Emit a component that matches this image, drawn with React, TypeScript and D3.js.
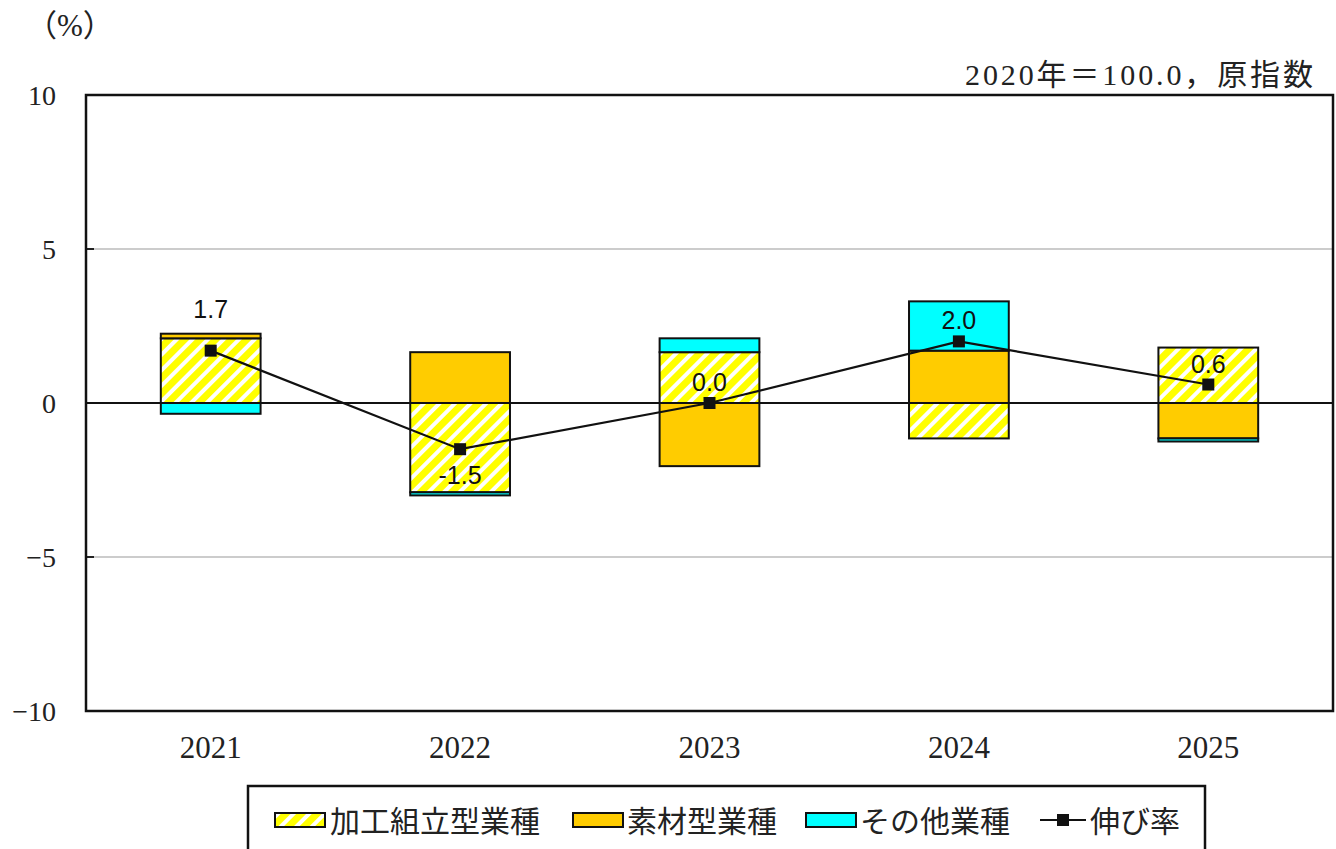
import { useMemo } from "react";
import * as d3 from "d3";

// values (percentage-point contributions)
const years = ["2021", "2022", "2023", "2024", "2025"];
const assembly = [2.1, -2.9, 1.65, -1.15, 1.8]; // 加工組立型業種
const materials = [0.15, 1.65, -2.05, 1.7, -1.15]; // 素材型業種
const others = [-0.35, -0.1, 0.45, 1.6, -0.1]; // その他業種
const growth = [1.7, -1.5, 0.0, 2.0, 0.6]; // 伸び率
const labelPlace = ["barTop", "below", "above", "above", "above"];

const yTicks = [10, 5, 0, -5, -10];
const legendNames = ["加工組立型業種", "素材型業種", "その他業種", "伸び率"];

const W = 1336;
const H = 849;
const margin = { left: 86, right: 3, top: 95, bottom: 138 };

const serif = "'Liberation Serif', 'DejaVu Serif', 'Noto Sans CJK JP', serif";
const cjk = "'Liberation Serif', 'Noto Sans CJK JP', sans-serif";
const sans = "'Liberation Sans', Arial, sans-serif";

const keys = ["assembly", "materials", "others"] as const;
const fills: Record<string, string> = {
  assembly: "url(#hatch)",
  materials: "#ffcc00",
  others: "#00ffff",
};

export default function App() {
  const innerW = W - margin.left - margin.right;
  const innerH = H - margin.top - margin.bottom;

  const x = useMemo(
    () => d3.scaleBand().domain(years).range([margin.left, margin.left + innerW]).paddingInner(0.6).paddingOuter(0.3),
    [innerW]
  );
  const y = useMemo(
    () => d3.scaleLinear().domain([-10, 10]).range([margin.top + innerH, margin.top]),
    [innerH]
  );

  const rows = years.map((yr, i) => ({
    year: yr,
    assembly: assembly[i],
    materials: materials[i],
    others: others[i],
  }));
  const series = d3
    .stack<any>()
    .keys(keys as any)
    .offset(d3.stackOffsetDiverging)(rows);

  const cx = (yr: string) => (x(yr) ?? 0) + x.bandwidth() / 2;
  const line = d3
    .line<number>()
    .x((_, i) => cx(years[i]))
    .y((d) => y(d));

  const posTotal = years.map((_, i) =>
    [assembly[i], materials[i], others[i]].filter((v) => v > 0).reduce((a, b) => a + b, 0)
  );

  const x0 = margin.left;
  const x1 = margin.left + innerW;

  return (
    <svg width={W} height={H} style={{ position: "absolute", left: 0, top: 0, background: "#fff" }}>
      <defs>
        <pattern id="hatch" patternUnits="userSpaceOnUse" width="11" height="11" patternTransform="rotate(45)">
          <rect width="11" height="11" fill="#ffff00" />
          <rect width="4" height="11" fill="#ffffff" />
        </pattern>
      </defs>

      {/* unit + note */}
      <text x={26} y={36} fontFamily={cjk} fontSize={31} fill="#222">
        （%）
      </text>
      <text
        x={965}
        y={85}
        fontFamily={cjk}
        fontSize={30}
        fill="#222"
        textLength={348}
        lengthAdjust="spacing"
      >
        2020年＝100.0，原指数
      </text>

      {/* gridlines */}
      {yTicks
        .filter((t) => t !== 0 && Math.abs(t) !== 10)
        .map((t) => (
          <g key={t}>
            <line x1={x0} x2={x1} y1={y(t)} y2={y(t)} stroke="#999" strokeWidth={1} />
            <line x1={x0} x2={x0 + 8} y1={y(t)} y2={y(t)} stroke="#222" strokeWidth={2} />
          </g>
        ))}

      {/* y tick labels */}
      {yTicks.map((t) => (
        <text
          key={t}
          x={56}
          y={y(t)}
          dy="0.35em"
          textAnchor="end"
          fontFamily={serif}
          fontSize={28}
          fill="#222"
        >
          {t < 0 ? `−${Math.abs(t)}` : t}
        </text>
      ))}

      {/* stacked bars */}
      {series.map((s) =>
        s.map((d, i) => {
          const top = y(Math.max(d[0], d[1]));
          const bot = y(Math.min(d[0], d[1]));
          if (bot - top <= 0) return null;
          return (
            <rect
              key={`${s.key}-${i}`}
              x={x(years[i])}
              y={top}
              width={x.bandwidth()}
              height={bot - top}
              fill={fills[s.key]}
              stroke="#111"
              strokeWidth={2}
            />
          );
        })
      )}

      {/* zero line */}
      <line x1={x0} x2={x1} y1={y(0)} y2={y(0)} stroke="#111" strokeWidth={2} />

      {/* growth line */}
      <path d={line(growth) ?? ""} fill="none" stroke="#111" strokeWidth={2.2} />
      {growth.map((g, i) => (
        <rect key={i} x={cx(years[i]) - 6} y={y(g) - 6} width={12} height={12} fill="#111" />
      ))}
      {growth.map((g, i) => {
        const place = labelPlace[i];
        const ly =
          place === "barTop" ? y(posTotal[i]) - 16 : place === "below" ? y(g) + 35 : y(g) - 12;
        return (
          <text key={i} x={cx(years[i])} y={ly} textAnchor="middle" fontFamily={sans} fontSize={25} fill="#111">
            {g < 0 ? `-${Math.abs(g).toFixed(1)}` : g.toFixed(1)}
          </text>
        );
      })}

      {/* plot frame */}
      <rect x={x0} y={margin.top} width={innerW} height={innerH} fill="none" stroke="#111" strokeWidth={2.5} />

      {/* x labels */}
      {years.map((yr) => (
        <text key={yr} x={cx(yr)} y={758} textAnchor="middle" fontFamily={serif} fontSize={31} fill="#222">
          {yr}
        </text>
      ))}

      {/* legend */}
      <rect x={248} y={786} width={957} height={80} fill="#fff" stroke="#111" strokeWidth={2.5} />
      <g fontFamily={cjk} fontSize={30} fill="#222">
        <rect x={275} y={813} width={50} height={14} fill="url(#hatch)" stroke="#111" strokeWidth={2} />
        <text x={330} y={832}>{legendNames[0]}</text>
        <rect x={573} y={813} width={50} height={14} fill="#ffcc00" stroke="#111" strokeWidth={2} />
        <text x={627} y={832}>{legendNames[1]}</text>
        <rect x={806} y={813} width={50} height={14} fill="#00ffff" stroke="#111" strokeWidth={2} />
        <text x={860} y={832}>{legendNames[2]}</text>
        <line x1={1040} x2={1086} y1={820} y2={820} stroke="#111" strokeWidth={2.2} />
        <rect x={1057} y={814} width={12} height={12} fill="#111" />
        <text x={1090} y={832}>{legendNames[3]}</text>
      </g>
    </svg>
  );
}
